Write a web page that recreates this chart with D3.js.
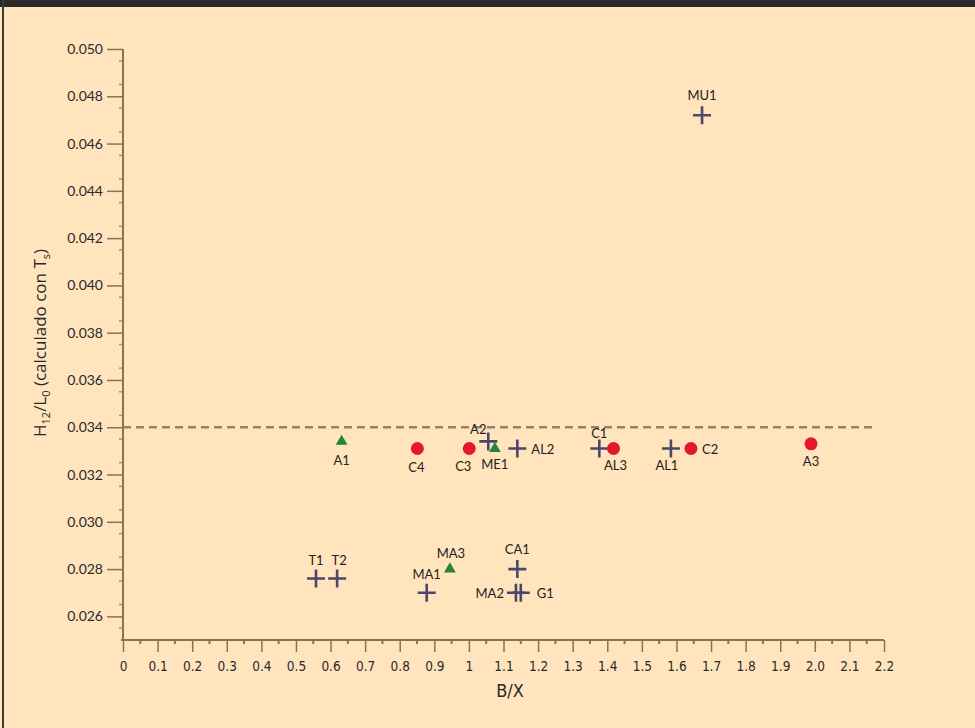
<!DOCTYPE html>
<html>
<head>
<meta charset="utf-8">
<script src="https://cdn.jsdelivr.net/npm/d3@7"></script>
<style>
  html, body { margin: 0; padding: 0; background: #ffe4be; }
  svg { display: block; }
  .tick-label { font-family: Lato, "Noto Sans", sans-serif; font-size: 14px; fill: #2a2a2a; }
  .x-label { font-family: "DejaVu Sans Condensed", "Liberation Sans Narrow", sans-serif; font-size: 13.5px; fill: #2a2a2a; }
  .pt-label { font-family: Lato, "Noto Sans", sans-serif; font-size: 13px; fill: #222; }
</style>
</head>
<body>
<svg id="chart" width="975" height="728"></svg>
<script>
(function () {
  "use strict";

  // series
  var crossNames = ["MU1", "T1", "T2", "MA1", "CA1", "MA2", "G1", "A2", "AL2", "C1", "AL1"];
  var crossX = [1.674, 0.558, 0.619, 0.878, 1.14, 1.136, 1.15, 1.056, 1.14, 1.377, 1.584];
  var crossY = [0.0472, 0.0276, 0.0276, 0.0270, 0.0280, 0.0270, 0.0270, 0.0334, 0.0331, 0.0331, 0.0331];

  var circleNames = ["C4", "C3", "AL3", "C2", "A3"];
  var circleX = [0.851, 1.001, 1.418, 1.642, 1.989];
  var circleY = [0.0331, 0.0331, 0.0331, 0.0331, 0.0333];

  var triangleNames = ["A1", "ME1", "MA3"];
  var triangleX = [0.632, 1.075, 0.945];
  var triangleY = [0.0334, 0.0331, 0.0280];

  var threshold = 0.034;

  var xTicks = d3.range(0, 23).map(function (i) { return i / 10; });
  var xTickLabels = ["0", "0.1", "0.2", "0.3", "0.4", "0.5", "0.6", "0.7", "0.8", "0.9", "1",
    "1.1", "1.2", "1.3", "1.4", "1.5", "1.6", "1.7", "1.8", "1.9", "2.0", "2.1", "2.2"];
  var yTicks = [0.026, 0.028, 0.030, 0.032, 0.034, 0.036, 0.038, 0.040, 0.042, 0.044, 0.046, 0.048, 0.050];

  // where each point label sits relative to its mark
  var labelPlace = {
    MU1: [0, -15, "middle"], T1: [0, -14, "middle"], T2: [2, -14, "middle"],
    MA1: [0, -14, "middle"], CA1: [0, -15, "middle"], MA2: [-12, 5, "end"],
    G1: [16, 5, "start"], A2: [-10, -7, "middle"], AL2: [14, 5, "start"],
    C1: [0, -11, "middle"], AL1: [-4, 21, "middle"], C4: [-1, 23, "middle"],
    C3: [-6, 22, "middle"], AL3: [2, 21, "middle"], C2: [11, 5, "start"],
    A3: [0, 22, "middle"], A1: [0, 24, "middle"], ME1: [0, 20, "middle"],
    MA3: [1, -11, "middle"]
  };

  var svg = d3.select("#chart");
  var x = d3.scaleLinear().domain([0, 2.2]).range([123, 884]);
  var y = d3.scaleLinear().domain([0.025, 0.050]).range([640, 49]);
  var axisColor = "#8a7350";

  // frame
  svg.append("rect").attr("x", 0).attr("y", 0).attr("width", 975).attr("height", 728).attr("fill", "#ffe4be");
  svg.append("rect").attr("x", 0).attr("y", 0).attr("width", 975).attr("height", 7).attr("fill", "#2b2b2b");
  svg.append("rect").attr("x", 2).attr("y", 0).attr("width", 2).attr("height", 728).attr("fill", "#3a3a3a");

  // y axis
  var yAxis = d3.axisLeft(y).tickValues(yTicks).tickSize(16).tickFormat(d3.format(".3f")).tickPadding(4);
  var gy = svg.append("g").attr("transform", "translate(" + x(0) + ",0)").call(yAxis);
  gy.select(".domain").remove();
  gy.selectAll(".tick line").attr("stroke", axisColor).attr("stroke-width", 1.5);
  gy.selectAll(".tick text").attr("class", "tick-label").attr("font-family", null).attr("font-size", null);
  var yMinor = d3.range(0.0255, 0.050, 0.001);
  gy.selectAll(".minor").data(yMinor).enter().append("line")
    .attr("x1", -4).attr("x2", 0)
    .attr("y1", function (d) { return y(d); }).attr("y2", function (d) { return y(d); })
    .attr("stroke", axisColor).attr("stroke-width", 1.5).attr("opacity", 0.7);
  gy.append("line").attr("x1", 0).attr("x2", 0).attr("y1", y(0.050)).attr("y2", y(0.025))
    .attr("stroke", axisColor).attr("stroke-width", 2);

  // x axis
  var xAxis = d3.axisBottom(x).tickValues(xTicks).tickSize(12).tickPadding(9)
    .tickFormat(function (d, i) { return xTickLabels[i]; });
  var gx = svg.append("g").attr("transform", "translate(0," + y(0.025) + ")").call(xAxis);
  gx.select(".domain").remove();
  gx.selectAll(".tick line").attr("stroke", axisColor).attr("stroke-width", 1.5);
  gx.selectAll(".tick text").attr("class", "x-label").attr("font-family", null).attr("font-size", null);
  var xMinor = d3.range(0.05, 2.2, 0.1);
  gx.selectAll(".minor").data(xMinor).enter().append("line")
    .attr("x1", function (d) { return x(d); }).attr("x2", function (d) { return x(d); })
    .attr("y1", 0).attr("y2", 4)
    .attr("stroke", axisColor).attr("stroke-width", 2);
  gx.append("line").attr("x1", x(0) - 2).attr("x2", x(2.2)).attr("y1", 0).attr("y2", 0)
    .attr("stroke", axisColor).attr("stroke-width", 2);

  // axis titles
  svg.append("text").attr("x", 510).attr("y", 697).attr("text-anchor", "middle")
    .attr("font-family", "'DejaVu Sans Condensed', 'Liberation Sans Narrow', sans-serif")
    .attr("font-size", 18).attr("fill", "#2a2a2a").text("B/X");

  var yt = svg.append("text").attr("transform", "translate(46,437) rotate(-90)")
    .attr("text-anchor", "start").attr("font-family", "'Open Sans', Lato, sans-serif")
    .attr("font-size", 17).attr("fill", "#2a2a2a");
  yt.append("tspan").text("H");
  yt.append("tspan").attr("font-size", 11).attr("dy", 4).text("12");
  yt.append("tspan").attr("dy", -4).text("/L");
  yt.append("tspan").attr("font-size", 11).attr("dy", 4).text("0");
  yt.append("tspan").attr("dy", -4).text(" (calculado con T");
  yt.append("tspan").attr("font-size", 11).attr("dy", 4).text("s");
  yt.append("tspan").attr("dy", -4).text(")");

  // threshold
  svg.append("line").attr("x1", x(0)).attr("x2", x(2.18))
    .attr("y1", y(threshold)).attr("y2", y(threshold))
    .attr("stroke", "#8d8570").attr("stroke-width", 2.6).attr("stroke-dasharray", "8,5");

  function zip(names, xs, ys) {
    return names.map(function (n, i) { return { name: n, x: xs[i], y: ys[i] }; });
  }
  var crosses = zip(crossNames, crossX, crossY);
  var circles = zip(circleNames, circleX, circleY);
  var triangles = zip(triangleNames, triangleX, triangleY);

  var marks = svg.append("g");
  marks.selectAll(".cross").data(crosses).enter().append("path")
    .attr("d", "M-9,0H9M0,-9V9")
    .attr("transform", function (d) { return "translate(" + x(d.x) + "," + y(d.y) + ")"; })
    .attr("stroke", "#4a4866").attr("stroke-width", 2.6).attr("fill", "none");

  marks.selectAll(".circle").data(circles).enter().append("circle")
    .attr("cx", function (d) { return x(d.x); }).attr("cy", function (d) { return y(d.y); })
    .attr("r", 6.5).attr("fill", "#e3182b");

  var tri = d3.symbol().type(d3.symbolTriangle).size(60);
  marks.selectAll(".tri").data(triangles).enter().append("path")
    .attr("d", tri)
    .attr("transform", function (d) { return "translate(" + x(d.x) + "," + y(d.y) + ")"; })
    .attr("fill", "#23843a");

  var all = crosses.concat(circles, triangles);
  svg.append("g").selectAll("text").data(all).enter().append("text")
    .attr("class", "pt-label")
    .attr("x", function (d) { return x(d.x) + labelPlace[d.name][0]; })
    .attr("y", function (d) { return y(d.y) + labelPlace[d.name][1]; })
    .attr("text-anchor", function (d) { return labelPlace[d.name][2]; })
    .text(function (d) { return d.name; });
}());
</script>
</body>
</html>
